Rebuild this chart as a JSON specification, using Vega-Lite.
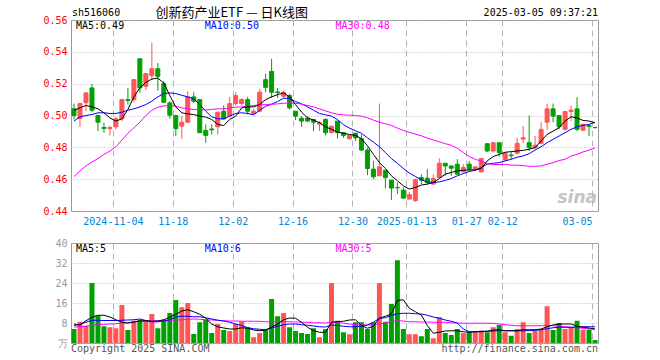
{
  "$schema": "https://vega.github.io/schema/vega-lite/v6.json",
  "padding": {"left": 42, "top": 6, "right": 0, "bottom": 0},
  "spacing": 10,
  "background": "white",
  "config": {
    "view": {"stroke": "#999999", "strokeWidth": 1},
    "font": "DejaVu Sans Mono",
    "axis": {"labelFont": "DejaVu Sans Mono", "labelFontSize": 10, "titleFont": "DejaVu Sans Mono", "ticks": false, "domain": false, "grid": true, "gridColor": "#b4b4b4"},
    "axisY": {"gridDash": [1, 2], "labelPadding": 4}
  },
  "datasets": {
    "k": [
      {"d":"2024-10-24","o":0.5042,"h":0.5075,"l":0.4975,"c":0.5000,"v":5.6,"m5":0.5033,"m10":0.4965,"m30":0.4617,"v5":7.6,"v10":7.0,"v30":6.4},
      {"d":"2024-10-25","o":0.4981,"h":0.5075,"l":0.4927,"c":0.5075,"v":8.5,"m5":0.5048,"m10":0.4992,"m30":0.4652,"v5":7.2,"v10":7.5,"v30":6.5},
      {"d":"2024-10-28","o":0.5080,"h":0.5146,"l":0.5027,"c":0.5142,"v":6.9,"m5":0.5063,"m10":0.5000,"m30":0.4683,"v5":8.9,"v10":8.3,"v30":6.7},
      {"d":"2024-10-29","o":0.5173,"h":0.5198,"l":0.5020,"c":0.5033,"v":24.0,"m5":0.5054,"m10":0.5006,"m30":0.4708,"v5":10.3,"v10":9.1,"v30":7.1},
      {"d":"2024-10-30","o":0.5000,"h":0.5006,"l":0.4902,"c":0.4958,"v":10.9,"m5":0.5042,"m10":0.5017,"m30":0.4729,"v5":11.1,"v10":9.1,"v30":7.3},
      {"d":"2024-10-31","o":0.4925,"h":0.4954,"l":0.4892,"c":0.4919,"v":6.7,"m5":0.5017,"m10":0.5017,"m30":0.4756,"v5":11.1,"v10":9.0,"v30":7.5},
      {"d":"2024-11-01","o":0.4917,"h":0.4935,"l":0.4875,"c":0.4925,"v":6.3,"m5":0.4985,"m10":0.5013,"m30":0.4777,"v5":10.4,"v10":9.0,"v30":7.6},
      {"d":"2024-11-04","o":0.4929,"h":0.4990,"l":0.4913,"c":0.4979,"v":5.9,"m5":0.4965,"m10":0.5013,"m30":0.4804,"v5":9.3,"v10":9.0,"v30":7.7},
      {"d":"2024-11-05","o":0.4979,"h":0.5104,"l":0.4965,"c":0.5100,"v":15.2,"m5":0.4979,"m10":0.5021,"m30":0.4846,"v5":8.3,"v10":9.1,"v30":8.0},
      {"d":"2024-11-06","o":0.5100,"h":0.5173,"l":0.5069,"c":0.5094,"v":5.2,"m5":0.5038,"m10":0.5033,"m30":0.4888,"v5":8.0,"v10":9.2,"v30":8.1},
      {"d":"2024-11-07","o":0.5100,"h":0.5227,"l":0.5083,"c":0.5225,"v":8.9,"m5":0.5117,"m10":0.5042,"m30":0.4923,"v5":8.4,"v10":9.3,"v30":8.4},
      {"d":"2024-11-08","o":0.5356,"h":0.5360,"l":0.5142,"c":0.5173,"v":9.3,"m5":0.5173,"m10":0.5054,"m30":0.4958,"v5":8.8,"v10":9.6,"v30":8.7},
      {"d":"2024-11-11","o":0.5183,"h":0.5265,"l":0.5160,"c":0.5263,"v":8.9,"m5":0.5208,"m10":0.5069,"m30":0.5000,"v5":8.9,"v10":9.0,"v30":8.8},
      {"d":"2024-11-12","o":0.5250,"h":0.5458,"l":0.5225,"c":0.5294,"v":11.6,"m5":0.5229,"m10":0.5090,"m30":0.5033,"v5":8.7,"v10":8.5,"v30":8.9},
      {"d":"2024-11-13","o":0.5294,"h":0.5329,"l":0.5156,"c":0.5246,"v":5.9,"m5":0.5235,"m10":0.5117,"m30":0.5052,"v5":8.8,"v10":8.5,"v30":8.9},
      {"d":"2024-11-14","o":0.5200,"h":0.5215,"l":0.5079,"c":0.5083,"v":9.3,"m5":0.5204,"m10":0.5138,"m30":0.5060,"v5":9.3,"v10":8.8,"v30":8.9},
      {"d":"2024-11-15","o":0.5079,"h":0.5090,"l":0.4979,"c":0.5002,"v":12.0,"m5":0.5125,"m10":0.5142,"m30":0.5063,"v5":10.3,"v10":9.3,"v30":9.1},
      {"d":"2024-11-18","o":0.5000,"h":0.5004,"l":0.4871,"c":0.4917,"v":17.2,"m5":0.5054,"m10":0.5138,"m30":0.5058,"v5":11.5,"v10":10.4,"v30":9.2},
      {"d":"2024-11-19","o":0.4933,"h":0.4996,"l":0.4854,"c":0.4958,"v":14.3,"m5":0.5017,"m10":0.5127,"m30":0.5048,"v5":12.8,"v10":10.7,"v30":9.3},
      {"d":"2024-11-20","o":0.4958,"h":0.5152,"l":0.4954,"c":0.5117,"v":16.0,"m5":0.5010,"m10":0.5117,"m30":0.5042,"v5":13.3,"v10":10.7,"v30":9.5},
      {"d":"2024-11-21","o":0.5117,"h":0.5146,"l":0.5079,"c":0.5090,"v":3.6,"m5":0.5006,"m10":0.5104,"m30":0.5038,"v5":12.5,"v10":10.5,"v30":9.6},
      {"d":"2024-11-22","o":0.5100,"h":0.5102,"l":0.4892,"c":0.4892,"v":8.3,"m5":0.4996,"m10":0.5069,"m30":0.5038,"v5":11.5,"v10":10.5,"v30":9.5},
      {"d":"2024-11-25","o":0.4906,"h":0.4944,"l":0.4829,"c":0.4875,"v":9.3,"m5":0.4990,"m10":0.5027,"m30":0.5035,"v5":9.9,"v10":10.1,"v30":9.3},
      {"d":"2024-11-26","o":0.4915,"h":0.4944,"l":0.4881,"c":0.4910,"v":4.0,"m5":0.4975,"m10":0.4992,"m30":0.5038,"v5":7.6,"v10":9.6,"v30":9.2},
      {"d":"2024-11-27","o":0.4929,"h":0.5021,"l":0.4881,"c":0.5021,"v":7.6,"m5":0.4944,"m10":0.4979,"m30":0.5042,"v5":6.5,"v10":9.1,"v30":9.1},
      {"d":"2024-11-28","o":0.5027,"h":0.5063,"l":0.4975,"c":0.4979,"v":5.2,"m5":0.4937,"m10":0.4979,"m30":0.5042,"v5":6.0,"v10":8.8,"v30":8.9},
      {"d":"2024-11-29","o":0.4996,"h":0.5117,"l":0.4992,"c":0.5075,"v":4.8,"m5":0.4975,"m10":0.4996,"m30":0.5048,"v5":5.6,"v10":8.3,"v30":8.8},
      {"d":"2024-12-02","o":0.5075,"h":0.5146,"l":0.5063,"c":0.5125,"v":7.6,"m5":0.4996,"m10":0.5013,"m30":0.5052,"v5":5.6,"v10":7.6,"v30":8.8},
      {"d":"2024-12-03","o":0.5075,"h":0.5110,"l":0.5063,"c":0.5100,"v":8.5,"m5":0.5048,"m10":0.5017,"m30":0.5054,"v5":6.1,"v10":7.0,"v30":8.7},
      {"d":"2024-12-04","o":0.5100,"h":0.5117,"l":0.5006,"c":0.5027,"v":6.3,"m5":0.5054,"m10":0.5013,"m30":0.5058,"v5":5.9,"v10":6.1,"v30":8.7},
      {"d":"2024-12-05","o":0.5012,"h":0.5042,"l":0.5006,"c":0.5027,"v":2.3,"m5":0.5054,"m10":0.5004,"m30":0.5063,"v5":5.2,"v10":5.7,"v30":8.7},
      {"d":"2024-12-06","o":0.5027,"h":0.5167,"l":0.5021,"c":0.5146,"v":4.0,"m5":0.5069,"m10":0.5033,"m30":0.5067,"v5":4.9,"v10":5.5,"v30":8.7},
      {"d":"2024-12-09","o":0.5225,"h":0.5263,"l":0.5146,"c":0.5177,"v":5.2,"m5":0.5100,"m10":0.5058,"m30":0.5069,"v5":5.2,"v10":5.3,"v30":8.5},
      {"d":"2024-12-10","o":0.5277,"h":0.5356,"l":0.5110,"c":0.5146,"v":17.6,"m5":0.5117,"m10":0.5071,"m30":0.5071,"v5":6.4,"v10":6.0,"v30":8.5},
      {"d":"2024-12-11","o":0.5148,"h":0.5173,"l":0.5110,"c":0.5144,"v":10.7,"m5":0.5131,"m10":0.5088,"m30":0.5073,"v5":7.6,"v10":6.7,"v30":8.5},
      {"d":"2024-12-12","o":0.5121,"h":0.5158,"l":0.5110,"c":0.5146,"v":12.0,"m5":0.5142,"m10":0.5108,"m30":0.5077,"v5":9.3,"v10":7.3,"v30":8.5},
      {"d":"2024-12-13","o":0.5125,"h":0.5138,"l":0.5038,"c":0.5048,"v":6.3,"m5":0.5117,"m10":0.5108,"m30":0.5079,"v5":10.0,"v10":7.6,"v30":8.5},
      {"d":"2024-12-16","o":0.5027,"h":0.5027,"l":0.4971,"c":0.4996,"v":4.8,"m5":0.5069,"m10":0.5088,"m30":0.5077,"v5":9.9,"v10":7.6,"v30":8.4},
      {"d":"2024-12-17","o":0.4983,"h":0.4996,"l":0.4929,"c":0.4965,"v":4.0,"m5":0.5021,"m10":0.5073,"m30":0.5071,"v5":8.3,"v10":7.3,"v30":8.3},
      {"d":"2024-12-18","o":0.4983,"h":0.4996,"l":0.4958,"c":0.4965,"v":3.6,"m5":0.4985,"m10":0.5054,"m30":0.5063,"v5":6.3,"v10":7.1,"v30":8.3},
      {"d":"2024-12-19","o":0.4975,"h":0.4975,"l":0.4902,"c":0.4958,"v":5.9,"m5":0.4971,"m10":0.5033,"m30":0.5054,"v5":4.9,"v10":6.8,"v30":8.1},
      {"d":"2024-12-20","o":0.4946,"h":0.4965,"l":0.4902,"c":0.4954,"v":2.3,"m5":0.4954,"m10":0.5013,"m30":0.5042,"v5":4.3,"v10":6.5,"v30":8.1},
      {"d":"2024-12-23","o":0.4975,"h":0.4983,"l":0.4875,"c":0.4892,"v":5.6,"m5":0.4929,"m10":0.5004,"m30":0.5029,"v5":4.3,"v10":6.4,"v30":8.0},
      {"d":"2024-12-24","o":0.4892,"h":0.4933,"l":0.4888,"c":0.4933,"v":24.0,"m5":0.4913,"m10":0.4996,"m30":0.5017,"v5":8.3,"v10":7.2,"v30":8.3},
      {"d":"2024-12-25","o":0.4965,"h":0.4965,"l":0.4856,"c":0.4892,"v":8.9,"m5":0.4896,"m10":0.4975,"m30":0.5008,"v5":8.5,"v10":7.0,"v30":8.1},
      {"d":"2024-12-26","o":0.4892,"h":0.4892,"l":0.4860,"c":0.4875,"v":4.3,"m5":0.4888,"m10":0.4942,"m30":0.5004,"v5":8.7,"v10":6.7,"v30":7.9},
      {"d":"2024-12-27","o":0.4854,"h":0.4881,"l":0.4850,"c":0.4875,"v":3.5,"m5":0.4881,"m10":0.4921,"m30":0.5002,"v5":9.2,"v10":6.5,"v30":7.6},
      {"d":"2024-12-30","o":0.4888,"h":0.4892,"l":0.4840,"c":0.4860,"v":8.3,"m5":0.4875,"m10":0.4904,"m30":0.5000,"v5":9.3,"v10":6.5,"v30":7.3},
      {"d":"2024-12-31","o":0.4854,"h":0.4881,"l":0.4777,"c":0.4783,"v":8.3,"m5":0.4854,"m10":0.4888,"m30":0.4996,"v5":7.0,"v10":6.7,"v30":7.2},
      {"d":"2025-01-02","o":0.4783,"h":0.4798,"l":0.4625,"c":0.4667,"v":5.6,"m5":0.4810,"m10":0.4860,"m30":0.4986,"v5":5.9,"v10":7.2,"v30":7.2},
      {"d":"2025-01-03","o":0.4663,"h":0.4715,"l":0.4600,"c":0.4615,"v":8.3,"m5":0.4756,"m10":0.4833,"m30":0.4971,"v5":6.7,"v10":8.3,"v30":7.3},
      {"d":"2025-01-06","o":0.4621,"h":0.5075,"l":0.4619,"c":0.4677,"v":24.0,"m5":0.4704,"m10":0.4804,"m30":0.4958,"v5":9.9,"v10":9.9,"v30":7.6},
      {"d":"2025-01-07","o":0.4656,"h":0.4656,"l":0.4542,"c":0.4610,"v":8.5,"m5":0.4667,"m10":0.4767,"m30":0.4948,"v5":10.7,"v10":10.1,"v30":8.0},
      {"d":"2025-01-08","o":0.4594,"h":0.4594,"l":0.4469,"c":0.4544,"v":15.6,"m5":0.4621,"m10":0.4729,"m30":0.4938,"v5":11.6,"v10":11.0,"v30":8.5},
      {"d":"2025-01-09","o":0.4548,"h":0.4579,"l":0.4506,"c":0.4546,"v":33.1,"m5":0.4590,"m10":0.4700,"m30":0.4921,"v5":17.0,"v10":11.7,"v30":8.9},
      {"d":"2025-01-10","o":0.4531,"h":0.4548,"l":0.4479,"c":0.4481,"v":5.6,"m5":0.4558,"m10":0.4667,"m30":0.4906,"v5":17.3,"v10":11.9,"v30":8.8},
      {"d":"2025-01-13","o":0.4475,"h":0.4521,"l":0.4471,"c":0.4502,"v":3.5,"m5":0.4538,"m10":0.4638,"m30":0.4894,"v5":13.9,"v10":11.9,"v30":8.5},
      {"d":"2025-01-14","o":0.4465,"h":0.4604,"l":0.4458,"c":0.4596,"v":3.5,"m5":0.4548,"m10":0.4617,"m30":0.4883,"v5":12.5,"v10":11.7,"v30":8.5},
      {"d":"2025-01-15","o":0.4610,"h":0.4631,"l":0.4569,"c":0.4594,"v":2.7,"m5":0.4563,"m10":0.4596,"m30":0.4873,"v5":11.2,"v10":11.6,"v30":8.4},
      {"d":"2025-01-16","o":0.4606,"h":0.4663,"l":0.4565,"c":0.4579,"v":5.6,"m5":0.4569,"m10":0.4583,"m30":0.4858,"v5":7.0,"v10":11.1,"v30":8.4},
      {"d":"2025-01-17","o":0.4569,"h":0.4631,"l":0.4565,"c":0.4604,"v":1.9,"m5":0.4579,"m10":0.4579,"m30":0.4846,"v5":3.9,"v10":10.4,"v30":8.3},
      {"d":"2025-01-20","o":0.4610,"h":0.4731,"l":0.4606,"c":0.4700,"v":10.3,"m5":0.4604,"m10":0.4583,"m30":0.4835,"v5":4.3,"v10":9.9,"v30":8.3},
      {"d":"2025-01-21","o":0.4700,"h":0.4700,"l":0.4621,"c":0.4683,"v":4.0,"m5":0.4631,"m10":0.4592,"m30":0.4823,"v5":4.8,"v10":9.2,"v30":8.3},
      {"d":"2025-01-22","o":0.4683,"h":0.4683,"l":0.4621,"c":0.4669,"v":3.2,"m5":0.4642,"m10":0.4604,"m30":0.4813,"v5":4.9,"v10":8.7,"v30":8.1},
      {"d":"2025-01-23","o":0.4694,"h":0.4725,"l":0.4631,"c":0.4631,"v":5.6,"m5":0.4652,"m10":0.4621,"m30":0.4794,"v5":4.9,"v10":8.0,"v30":8.0},
      {"d":"2025-01-24","o":0.4646,"h":0.4694,"l":0.4642,"c":0.4673,"v":4.0,"m5":0.4656,"m10":0.4635,"m30":0.4767,"v5":4.5,"v10":5.6,"v30":7.9},
      {"d":"2025-01-27","o":0.4694,"h":0.4715,"l":0.4652,"c":0.4663,"v":4.5,"m5":0.4658,"m10":0.4648,"m30":0.4742,"v5":4.3,"v10":4.5,"v30":7.9},
      {"d":"2025-02-05","o":0.4663,"h":0.4683,"l":0.4652,"c":0.4677,"v":4.5,"m5":0.4658,"m10":0.4656,"m30":0.4725,"v5":4.5,"v10":4.5,"v30":7.9},
      {"d":"2025-02-06","o":0.4646,"h":0.4729,"l":0.4642,"c":0.4729,"v":4.9,"m5":0.4667,"m10":0.4673,"m30":0.4713,"v5":4.5,"v10":4.7,"v30":7.9},
      {"d":"2025-02-07","o":0.4823,"h":0.4823,"l":0.4771,"c":0.4777,"v":4.3,"m5":0.4715,"m10":0.4694,"m30":0.4698,"v5":4.7,"v10":4.7,"v30":7.9},
      {"d":"2025-02-10","o":0.4777,"h":0.4833,"l":0.4767,"c":0.4829,"v":6.3,"m5":0.4742,"m10":0.4700,"m30":0.4692,"v5":5.2,"v10":4.8,"v30":7.9},
      {"d":"2025-02-11","o":0.4829,"h":0.4829,"l":0.4742,"c":0.4767,"v":7.2,"m5":0.4756,"m10":0.4704,"m30":0.4692,"v5":5.3,"v10":4.9,"v30":7.6},
      {"d":"2025-02-12","o":0.4721,"h":0.4771,"l":0.4715,"c":0.4763,"v":4.3,"m5":0.4769,"m10":0.4715,"m30":0.4693,"v5":4.9,"v10":4.9,"v30":7.3},
      {"d":"2025-02-13","o":0.4752,"h":0.4771,"l":0.4725,"c":0.4748,"v":2.9,"m5":0.4773,"m10":0.4725,"m30":0.4688,"v5":4.9,"v10":4.9,"v30":7.1},
      {"d":"2025-02-14","o":0.4763,"h":0.4860,"l":0.4756,"c":0.4825,"v":5.6,"m5":0.4777,"m10":0.4738,"m30":0.4688,"v5":4.9,"v10":4.9,"v30":6.9},
      {"d":"2025-02-17","o":0.4852,"h":0.4933,"l":0.4825,"c":0.4860,"v":8.3,"m5":0.4781,"m10":0.4746,"m30":0.4685,"v5":5.3,"v10":4.9,"v30":6.9},
      {"d":"2025-02-18","o":0.4829,"h":0.5000,"l":0.4777,"c":0.4798,"v":4.0,"m5":0.4788,"m10":0.4760,"m30":0.4681,"v5":5.3,"v10":4.9,"v30":6.9},
      {"d":"2025-02-19","o":0.4798,"h":0.4871,"l":0.4788,"c":0.4813,"v":4.9,"m5":0.4798,"m10":0.4783,"m30":0.4681,"v5":5.3,"v10":5.1,"v30":6.9},
      {"d":"2025-02-20","o":0.4825,"h":0.4958,"l":0.4819,"c":0.4913,"v":5.3,"m5":0.4840,"m10":0.4804,"m30":0.4683,"v5":5.6,"v10":5.3,"v30":6.9},
      {"d":"2025-02-21","o":0.4958,"h":0.5075,"l":0.4908,"c":0.5042,"v":14.7,"m5":0.4881,"m10":0.4829,"m30":0.4694,"v5":6.5,"v10":5.7,"v30":7.1},
      {"d":"2025-02-24","o":0.5042,"h":0.5075,"l":0.4958,"c":0.4996,"v":5.2,"m5":0.4902,"m10":0.4850,"m30":0.4704,"v5":7.2,"v10":6.1,"v30":6.9},
      {"d":"2025-02-25","o":0.5000,"h":0.5000,"l":0.4913,"c":0.4929,"v":8.0,"m5":0.4923,"m10":0.4871,"m30":0.4717,"v5":7.6,"v10":6.3,"v30":6.7},
      {"d":"2025-02-26","o":0.4913,"h":0.5025,"l":0.4908,"c":0.5025,"v":5.6,"m5":0.4965,"m10":0.4892,"m30":0.4725,"v5":7.6,"v10":6.3,"v30":6.5},
      {"d":"2025-02-27","o":0.5025,"h":0.5063,"l":0.4965,"c":0.5033,"v":6.3,"m5":0.4992,"m10":0.4913,"m30":0.4746,"v5":7.6,"v10":6.3,"v30":6.3},
      {"d":"2025-02-28","o":0.5042,"h":0.5115,"l":0.4902,"c":0.4913,"v":8.9,"m5":0.4985,"m10":0.4929,"m30":0.4756,"v5":6.7,"v10":6.4,"v30":6.1},
      {"d":"2025-03-03","o":0.4908,"h":0.4950,"l":0.4902,"c":0.4944,"v":5.3,"m5":0.4969,"m10":0.4938,"m30":0.4771,"v5":6.3,"v10":6.5,"v30":5.9},
      {"d":"2025-03-04","o":0.4938,"h":0.4938,"l":0.4871,"c":0.4931,"v":5.3,"m5":0.4965,"m10":0.4944,"m30":0.4783,"v5":6.0,"v10":6.5,"v30":5.6},
      {"d":"2025-03-05","o":0.4925,"h":0.4929,"l":0.4921,"c":0.4923,"v":1.2,"m5":0.4954,"m10":0.4958,"m30":0.4796,"v5":5.6,"v10":6.5,"v30":5.5}
    ]
  },
  "vconcat": [
    {
      "width": 527,
      "height": 191,
      "data": {"name": "k"},
      "encoding": {
        "x": {
          "field": "d", "type": "ordinal",
          "scale": {"paddingInner": 0, "paddingOuter": 0, "domain": ["2024-10-24","2024-10-25","2024-10-28","2024-10-29","2024-10-30","2024-10-31","2024-11-01","2024-11-04","2024-11-05","2024-11-06","2024-11-07","2024-11-08","2024-11-11","2024-11-12","2024-11-13","2024-11-14","2024-11-15","2024-11-18","2024-11-19","2024-11-20","2024-11-21","2024-11-22","2024-11-25","2024-11-26","2024-11-27","2024-11-28","2024-11-29","2024-12-02","2024-12-03","2024-12-04","2024-12-05","2024-12-06","2024-12-09","2024-12-10","2024-12-11","2024-12-12","2024-12-13","2024-12-16","2024-12-17","2024-12-18","2024-12-19","2024-12-20","2024-12-23","2024-12-24","2024-12-25","2024-12-26","2024-12-27","2024-12-30","2024-12-31","2025-01-02","2025-01-03","2025-01-06","2025-01-07","2025-01-08","2025-01-09","2025-01-10","2025-01-13","2025-01-14","2025-01-15","2025-01-16","2025-01-17","2025-01-20","2025-01-21","2025-01-22","2025-01-23","2025-01-24","2025-01-27","2025-02-05","2025-02-06","2025-02-07","2025-02-10","2025-02-11","2025-02-12","2025-02-13","2025-02-14","2025-02-17","2025-02-18","2025-02-19","2025-02-20","2025-02-21","2025-02-24","2025-02-25","2025-02-26","2025-02-27","2025-02-28","2025-03-03","2025-03-04","2025-03-05"]},
          "axis": {
            "values": ["2024-11-04","2024-11-18","2024-12-02","2024-12-16","2024-12-30","2025-01-13","2025-01-27","2025-02-12","2025-03-05"],
            "tickOffset": -3,
            "labelExpr": "datum.value == '2024-11-04' || datum.value == '2025-01-13' ? datum.value : substring(datum.value, 5, 10)",
            "title": null, "labelAngle": 0,
            "labelColor": "#0088d8", "labelPadding": 5, "labelFlush": 8, "labelOverlap": false,
            "gridDash": [6, 4]
          }
        }
      },
      "layer": [
        {
          "mark": {"type": "rule", "strokeWidth": 1},
          "encoding": {
            "y": {"field": "l", "type": "quantitative",
              "scale": {"domain": [0.44, 0.56], "nice": false, "zero": false},
              "axis": {"values": [0.44, 0.46, 0.48, 0.50, 0.52, 0.54, 0.56], "format": ".2f", "title": null, "labelColor": "#ff0000"}},
            "y2": {"field": "h"},
            "color": {"condition": {"test": "datum.c >= datum.o", "value": "#ff5555"}, "value": "#00a000"}
          }
        },
        {
          "mark": {"type": "bar", "size": 4, "strokeWidth": 1},
          "encoding": {
            "y": {"field": "o", "type": "quantitative", "axis": {"values": [0.44, 0.46, 0.48, 0.50, 0.52, 0.54, 0.56], "format": ".2f", "title": null, "labelColor": "#ff0000"}},
            "y2": {"field": "c"},
            "fill": {"condition": {"test": "datum.c >= datum.o", "value": "#ff5555"}, "value": "#00a000"},
            "stroke": {"condition": {"test": "datum.c >= datum.o", "value": "#ff5555"}, "value": "#00a000"}
          }
        },
        {
          "mark": {"type": "line", "strokeWidth": 1, "color": "#0000ff"},
          "encoding": {"y": {"field": "m10", "type": "quantitative", "axis": {"values": [0.44, 0.46, 0.48, 0.50, 0.52, 0.54, 0.56], "format": ".2f", "title": null, "labelColor": "#ff0000"}}}
        },
        {
          "mark": {"type": "line", "strokeWidth": 1, "color": "#ff00ff"},
          "encoding": {"y": {"field": "m30", "type": "quantitative", "axis": {"values": [0.44, 0.46, 0.48, 0.50, 0.52, 0.54, 0.56], "format": ".2f", "title": null, "labelColor": "#ff0000"}}}
        },
        {
          "mark": {"type": "line", "strokeWidth": 1, "color": "#000000"},
          "encoding": {"y": {"field": "m5", "type": "quantitative", "axis": {"values": [0.44, 0.46, 0.48, 0.50, 0.52, 0.54, 0.56], "format": ".2f", "title": null, "labelColor": "#ff0000"}}}
        },
        {
          "data": {"values": [{"t": "MA5:0.49"}]},
          "mark": {"type": "text", "align": "left", "baseline": "middle", "fontSize": 10, "dx": 2, "color": "#000000"},
          "encoding": {"x": {"datum": "2024-10-24", "type": "ordinal"}, "y": {"datum": 0.5564, "type": "quantitative", "axis": {"values": [0.44, 0.46, 0.48, 0.50, 0.52, 0.54, 0.56], "format": ".2f", "title": null, "labelColor": "#ff0000"}}, "text": {"field": "t"}}
        },
        {
          "data": {"values": [{"t": "MA10:0.50"}]},
          "mark": {"type": "text", "align": "left", "baseline": "middle", "fontSize": 10, "dx": -1, "color": "#0000ff"},
          "encoding": {"x": {"datum": "2024-11-25", "type": "ordinal"}, "y": {"datum": 0.5564, "type": "quantitative", "axis": {"values": [0.44, 0.46, 0.48, 0.50, 0.52, 0.54, 0.56], "format": ".2f", "title": null, "labelColor": "#ff0000"}}, "text": {"field": "t"}}
        },
        {
          "data": {"values": [{"t": "MA30:0.48"}]},
          "mark": {"type": "text", "align": "left", "baseline": "middle", "fontSize": 10, "dx": -2, "color": "#ff00ff"},
          "encoding": {"x": {"datum": "2024-12-25", "type": "ordinal"}, "y": {"datum": 0.5564, "type": "quantitative", "axis": {"values": [0.44, 0.46, 0.48, 0.50, 0.52, 0.54, 0.56], "format": ".2f", "title": null, "labelColor": "#ff0000"}}, "text": {"field": "t"}}
        },
        {
          "data": {"values": [{"t": "sh516060"}]},
          "mark": {"type": "text", "align": "left", "baseline": "middle", "fontSize": 10, "dx": -2, "color": "#000000"},
          "encoding": {"x": {"datum": "2024-10-24", "type": "ordinal"}, "y": {"datum": 0.5646, "type": "quantitative", "axis": {"values": [0.44, 0.46, 0.48, 0.50, 0.52, 0.54, 0.56], "format": ".2f", "title": null, "labelColor": "#ff0000"}}, "text": {"field": "t"}}
        },
        {
          "data": {"values": [{"t": "创新药产业ETF — 日K线图"}]},
          "mark": {"type": "text", "align": "center", "baseline": "middle", "fontSize": 13, "dx": 2, "font": "Noto Sans CJK SC", "color": "#000000"},
          "encoding": {"x": {"datum": "2024-11-29", "type": "ordinal"}, "y": {"datum": 0.5646, "type": "quantitative", "axis": {"values": [0.44, 0.46, 0.48, 0.50, 0.52, 0.54, 0.56], "format": ".2f", "title": null, "labelColor": "#ff0000"}}, "text": {"field": "t"}}
        },
        {
          "data": {"values": [{"t": "2025-03-05 09:37:21"}]},
          "mark": {"type": "text", "align": "right", "baseline": "middle", "fontSize": 10, "dx": 3, "color": "#000000"},
          "encoding": {"x": {"datum": "2025-03-05", "type": "ordinal"}, "y": {"datum": 0.5646, "type": "quantitative", "axis": {"values": [0.44, 0.46, 0.48, 0.50, 0.52, 0.54, 0.56], "format": ".2f", "title": null, "labelColor": "#ff0000"}}, "text": {"field": "t"}}
        },
        {
          "data": {"values": [{"t": "sina"}]},
          "mark": {"type": "text", "align": "right", "baseline": "middle", "fontSize": 17, "dx": 2, "font": "DejaVu Sans", "fontStyle": "italic", "fontWeight": "bold", "color": "#c4c4c4"},
          "encoding": {"x": {"datum": "2025-03-05", "type": "ordinal"}, "y": {"datum": 0.4483, "type": "quantitative", "axis": {"values": [0.44, 0.46, 0.48, 0.50, 0.52, 0.54, 0.56], "format": ".2f", "title": null, "labelColor": "#ff0000"}}, "text": {"field": "t"}}
        }
      ]
    },
    {
      "width": 527,
      "height": 100,
      "data": {"name": "k"},
      "encoding": {
        "x": {
          "field": "d", "type": "ordinal",
          "scale": {"paddingInner": 0, "paddingOuter": 0, "domain": ["2024-10-24","2024-10-25","2024-10-28","2024-10-29","2024-10-30","2024-10-31","2024-11-01","2024-11-04","2024-11-05","2024-11-06","2024-11-07","2024-11-08","2024-11-11","2024-11-12","2024-11-13","2024-11-14","2024-11-15","2024-11-18","2024-11-19","2024-11-20","2024-11-21","2024-11-22","2024-11-25","2024-11-26","2024-11-27","2024-11-28","2024-11-29","2024-12-02","2024-12-03","2024-12-04","2024-12-05","2024-12-06","2024-12-09","2024-12-10","2024-12-11","2024-12-12","2024-12-13","2024-12-16","2024-12-17","2024-12-18","2024-12-19","2024-12-20","2024-12-23","2024-12-24","2024-12-25","2024-12-26","2024-12-27","2024-12-30","2024-12-31","2025-01-02","2025-01-03","2025-01-06","2025-01-07","2025-01-08","2025-01-09","2025-01-10","2025-01-13","2025-01-14","2025-01-15","2025-01-16","2025-01-17","2025-01-20","2025-01-21","2025-01-22","2025-01-23","2025-01-24","2025-01-27","2025-02-05","2025-02-06","2025-02-07","2025-02-10","2025-02-11","2025-02-12","2025-02-13","2025-02-14","2025-02-17","2025-02-18","2025-02-19","2025-02-20","2025-02-21","2025-02-24","2025-02-25","2025-02-26","2025-02-27","2025-02-28","2025-03-03","2025-03-04","2025-03-05"]},
          "axis": {
            "values": ["2024-11-04","2024-11-18","2024-12-02","2024-12-16","2024-12-30","2025-01-13","2025-01-27","2025-02-12","2025-03-05"],
            "tickOffset": -3, "labels": false, "title": null, "gridDash": [6, 4]
          }
        }
      },
      "layer": [
        {
          "mark": {"type": "bar", "size": 5},
          "encoding": {
            "y": {"field": "v", "type": "quantitative",
              "scale": {"domain": [0, 40], "nice": false},
              "axis": {"values": [0, 8, 16, 24, 32, 40], "labelExpr": "datum.value == 0 ? '万' : datum.label", "title": null, "labelColor": "#999999"}},
            "color": {"condition": {"test": "datum.c >= datum.o", "value": "#ff5555"}, "value": "#00a000"}
          }
        },
        {
          "mark": {"type": "line", "strokeWidth": 1, "color": "#ff00ff"},
          "encoding": {"y": {"field": "v30", "type": "quantitative", "axis": {"values": [0, 8, 16, 24, 32, 40], "labelExpr": "datum.value == 0 ? '万' : datum.label", "title": null, "labelColor": "#999999"}}}
        },
        {
          "mark": {"type": "line", "strokeWidth": 1, "color": "#0000ff"},
          "encoding": {"y": {"field": "v10", "type": "quantitative", "axis": {"values": [0, 8, 16, 24, 32, 40], "labelExpr": "datum.value == 0 ? '万' : datum.label", "title": null, "labelColor": "#999999"}}}
        },
        {
          "mark": {"type": "line", "strokeWidth": 1, "color": "#000000"},
          "encoding": {"y": {"field": "v5", "type": "quantitative", "axis": {"values": [0, 8, 16, 24, 32, 40], "labelExpr": "datum.value == 0 ? '万' : datum.label", "title": null, "labelColor": "#999999"}}}
        },
        {
          "data": {"values": [{"t": "MA5:5"}]},
          "mark": {"type": "text", "align": "left", "baseline": "middle", "fontSize": 10, "dx": 2, "color": "#000000"},
          "encoding": {"x": {"datum": "2024-10-24", "type": "ordinal"}, "y": {"datum": 37.5, "type": "quantitative", "axis": {"values": [0, 8, 16, 24, 32, 40], "labelExpr": "datum.value == 0 ? '万' : datum.label", "title": null, "labelColor": "#999999"}}, "text": {"field": "t"}}
        },
        {
          "data": {"values": [{"t": "MA10:6"}]},
          "mark": {"type": "text", "align": "left", "baseline": "middle", "fontSize": 10, "dx": -1, "color": "#0000ff"},
          "encoding": {"x": {"datum": "2024-11-25", "type": "ordinal"}, "y": {"datum": 37.5, "type": "quantitative", "axis": {"values": [0, 8, 16, 24, 32, 40], "labelExpr": "datum.value == 0 ? '万' : datum.label", "title": null, "labelColor": "#999999"}}, "text": {"field": "t"}}
        },
        {
          "data": {"values": [{"t": "MA30:5"}]},
          "mark": {"type": "text", "align": "left", "baseline": "middle", "fontSize": 10, "dx": -2, "color": "#ff00ff"},
          "encoding": {"x": {"datum": "2024-12-25", "type": "ordinal"}, "y": {"datum": 37.5, "type": "quantitative", "axis": {"values": [0, 8, 16, 24, 32, 40], "labelExpr": "datum.value == 0 ? '万' : datum.label", "title": null, "labelColor": "#999999"}}, "text": {"field": "t"}}
        },
        {
          "data": {"values": [{"t": "Copyright 2025 SINA.COM"}]},
          "mark": {"type": "text", "align": "left", "baseline": "middle", "fontSize": 10, "dx": -3, "color": "#555555"},
          "encoding": {"x": {"datum": "2024-10-24", "type": "ordinal"}, "y": {"datum": -2.4, "type": "quantitative", "axis": {"values": [0, 8, 16, 24, 32, 40], "labelExpr": "datum.value == 0 ? '万' : datum.label", "title": null, "labelColor": "#999999"}}, "text": {"field": "t"}}
        },
        {
          "data": {"values": [{"t": "http://finance.sina.com.cn"}]},
          "mark": {"type": "text", "align": "right", "baseline": "middle", "fontSize": 10, "dx": 3, "color": "#555555"},
          "encoding": {"x": {"datum": "2025-03-05", "type": "ordinal"}, "y": {"datum": -2.4, "type": "quantitative", "axis": {"values": [0, 8, 16, 24, 32, 40], "labelExpr": "datum.value == 0 ? '万' : datum.label", "title": null, "labelColor": "#999999"}}, "text": {"field": "t"}}
        }
      ]
    }
  ]
}
